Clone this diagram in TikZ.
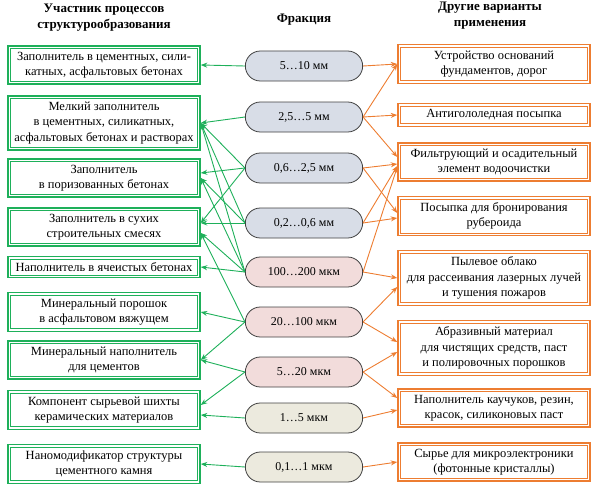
\documentclass[tikz,border=0pt]{standalone}
\usepackage{fontspec}
\setmainfont{Liberation Serif}
\usetikzlibrary{arrows.meta,shapes.misc}

\definecolor{partgreen}{RGB}{30,176,90}
\definecolor{useorange}{RGB}{237,125,49}
\definecolor{fracblue}{RGB}{216,221,231}
\definecolor{fracpink}{RGB}{242,220,219}
\definecolor{fracbeige}{RGB}{236,234,222}

\begin{document}
\begin{tikzpicture}[x=1pt,y=-1pt,
  font=\fontsize{12.5}{15.5}\selectfont,
  >={Stealth[length=6.5pt,width=5pt]},
  head/.style={font=\fontsize{13}{16}\selectfont\bfseries,align=center},
  framed/.style={
    draw=#1,
    line width=1.5pt,
    fill=white,
    align=center,
    minimum width=192pt,
    inner xsep=1pt,
    inner ysep=6pt,
    path picture={\draw[#1,line width=0.6pt]
      ([shift={(2.6pt,2.6pt)}]path picture bounding box.south west) rectangle
      ([shift={(-2.6pt,-2.6pt)}]path picture bounding box.north east);}
  },
  part/.style={framed=partgreen},
  other/.style={framed=useorange},
  frac/.style={
    rounded rectangle,
    draw=black!75,
    line width=0.8pt,
    fill=#1,
    font=\fontsize{12}{15}\selectfont,
    minimum width=124pt,
    minimum height=30pt
  },
  topart/.style={->,partgreen,line width=0.9pt},
  toother/.style={->,useorange,line width=0.9pt}
]
  \useasboundingbox (0,0) rectangle (596,487);

  \node[head] (parthead) at (104,18) {Участник процессов\\структурообразования};
  \node[head] (frachead) at (304,20) {Фракция};
  \node[head] (otherhead) at (490,16) {Другие варианты\\применения};

  \node[part] (p1) at (104,65) {Заполнитель в цементных, сили-\\катных, асфальтовых бетонах};
  \node[part] (p2) at (104,123) {Мелкий заполнитель\\в цементных, силикатных,\\асфальтовых бетонах и растворах};
  \node[part] (p3) at (104,178) {Заполнитель\\в поризованных бетонах};
  \node[part] (p4) at (104,227) {Заполнитель в сухих\\строительных смесях};
  \node[part] (p5) at (104,267) {Наполнитель в ячеистых бетонах};
  \node[part] (p6) at (104,312) {Минеральный порошок\\в асфальтовом вяжущем};
  \node[part] (p7) at (104,360) {Минеральный наполнитель\\для цементов};
  \node[part] (p8) at (104,410) {Компонент сырьевой шихты\\керамических материалов};
  \node[part] (p9) at (104,464) {Наномодификатор структуры\\цементного камня};

  \node[frac=fracblue] (f1) at (304,66) {5…10 мм};
  \node[frac=fracblue] (f2) at (304,117) {2,5…5 мм};
  \node[frac=fracblue] (f3) at (304,168) {0,6…2,5 мм};
  \node[frac=fracblue] (f4) at (304,223) {0,2…0,6 мм};
  \node[frac=fracpink] (f5) at (304,272) {100…200 мкм};
  \node[frac=fracpink] (f6) at (304,322) {20…100 мкм};
  \node[frac=fracpink] (f7) at (304,372) {5…20 мкм};
  \node[frac=fracbeige] (f8) at (304,418) {1…5 мкм};
  \node[frac=fracbeige] (f9) at (304,467) {0,1…1 мкм};

  \node[other] (u1) at (494,64) {Устройство оснований\\фундаментов, дорог};
  \node[other] (u2) at (494,115) {Антигололедная посыпка};
  \node[other] (u3) at (494,162) {Фильтрующий и осадительный\\элемент водоочистки};
  \node[other] (u4) at (494,216) {Посыпка для бронирования\\рубероида};
  \node[other] (u5) at (494,278) {Пылевое облако\\для рассеивания лазерных лучей\\и тушения пожаров};
  \node[other] (u6) at (494,348) {Абразивный материал\\для чистящих средств, паст\\и полировочных порошков};
  \node[other] (u7) at (494,408) {Наполнитель каучуков, резин,\\красок, силиконовых паст};
  \node[other] (u8) at (494,462) {Сырье для микроэлектроники\\(фотонные кристаллы)};

  \draw[topart] (f1.west) -- (p1.east);
  \draw[topart] (f2.west) -- (p2.east);
  \draw[topart] (f3.west) -- (p2.east);
  \draw[topart] (f4.west) -- (p2.east);
  \draw[topart] (f5.west) -- (p2.east);
  \draw[topart] (f3.west) -- ([yshift=5pt]p3.east);
  \draw[topart] (f4.west) -- (p3.east);
  \draw[topart] (f5.west) -- (p3.east);
  \draw[topart] (f3.west) -- ([yshift=4pt]p4.east);
  \draw[topart] (f4.west) -- ([yshift=4pt]p4.east);
  \draw[topart] (f5.west) -- ([yshift=-6pt]p4.east);
  \draw[topart] (f6.west) -- ([yshift=-6pt]p4.east);
  \draw[topart] (f5.west) -- (p5.east);
  \draw[topart] (f6.west) -- (p6.east);
  \draw[topart] (f6.west) -- (p7.east);
  \draw[topart] (f7.west) -- (p7.east);
  \draw[topart] (f7.west) -- ([yshift=5pt]p8.east);
  \draw[topart] (f8.west) -- ([yshift=-5pt]p8.east);
  \draw[topart] (f9.west) -- (p9.east);

  \draw[toother] (f1.east) -- (u1.west);
  \draw[toother] (f2.east) -- (u1.west);
  \draw[toother] (f2.east) -- (u2.west);
  \draw[toother] (f2.east) -- ([yshift=5pt]u3.west);
  \draw[toother] (f3.east) -- ([yshift=-2pt]u3.west);
  \draw[toother] (f4.east) -- ([yshift=-4pt]u3.west);
  \draw[toother] (f5.east) -- ([yshift=-5pt]u3.west);
  \draw[toother] (f3.east) -- ([yshift=3pt]u4.west);
  \draw[toother] (f4.east) -- ([yshift=-2pt]u4.west);
  \draw[toother] (f5.east) -- (u5.west);
  \draw[toother] (f6.east) -- ([yshift=-9pt]u5.west);
  \draw[toother] (f6.east) -- ([yshift=6pt]u6.west);
  \draw[toother] (f7.east) -- ([yshift=-4pt]u6.west);
  \draw[toother] (f7.east) -- ([yshift=10pt]u7.west);
  \draw[toother] (f8.east) -- ([yshift=-2pt]u7.west);
  \draw[toother] (f9.east) -- (u8.west);
\end{tikzpicture}
\end{document}
